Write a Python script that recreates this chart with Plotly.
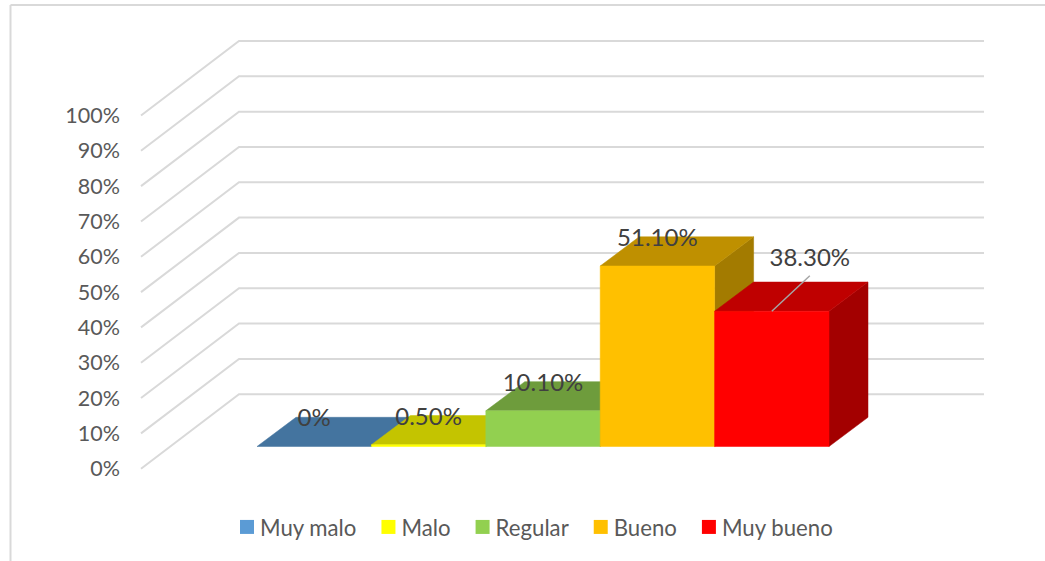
import plotly.graph_objects as go

# ---- data ----
categories = ["Muy malo", "Malo", "Regular", "Bueno", "Muy bueno"]
values = [0, 0.5, 10.1, 51.1, 38.3]
value_labels = ["0%", "0.50%", "10.10%", "51.10%", "38.30%"]
y_ticks = [0, 10, 20, 30, 40, 50, 60, 70, 80, 90, 100]
y_tick_labels = ["0%", "10%", "20%", "30%", "40%", "50%", "60%", "70%", "80%", "90%", "100%"]

# ---- styles ----
front_colors = ["#5B9BD5", "#FFFF00", "#92D050", "#FFC000", "#FF0000"]
top_colors = ["#44749F", "#C4C400", "#6E9C3C", "#BF9000", "#BF0000"]
side_colors = ["#3A6389", "#A3A300", "#5D8432", "#A37B00", "#A30000"]
GRID = "#D9D9D9"
FONT = "Lato, Carlito, Calibri, sans-serif"

# ---- canvas and scale: one bar is one x unit, y is in percent ----
W, H = 1045, 561
PX_X = 114.4          # pixels per bar
PX_Y = 3.532          # pixels per percent
X0_PX = 257           # pixel of the first bar's left edge
Y0_PX = 468.7         # pixel of 0 on the value axis
x_range = [-X0_PX / PX_X, (W - X0_PX) / PX_X]
y_range = [(Y0_PX - H) / PX_Y, Y0_PX / PX_Y]

# ---- oblique projection, in axis units ----
BAR_DX = 39 / PX_X
BAR_DY = 29.2 / PX_Y
WALL_DX = 98 / PX_X
WALL_DY = 74.5 / PX_Y
FLOOR = 22.2 / PX_Y
WALL_LEFT = (141 - X0_PX) / PX_X
WALL_WIDTH = 745 / PX_X

fig = go.Figure()

# receding and back-wall gridlines
for t in y_ticks:
    fig.add_trace(go.Scatter(
        x=[WALL_LEFT, WALL_LEFT + WALL_DX, WALL_LEFT + WALL_DX + WALL_WIDTH],
        y=[t, t + WALL_DY, t + WALL_DY],
        mode="lines", line=dict(color=GRID, width=2),
        showlegend=False, hoverinfo="skip"))


def face(xs, ys, color):
    fig.add_trace(go.Scatter(
        x=xs, y=ys, mode="lines", fill="toself", fillcolor=color,
        line=dict(color=color, width=0.5),
        showlegend=False, hoverinfo="skip"))


# bars, left to right so each one covers the side of the previous one
for i, v in enumerate(values):
    x0, x1 = i, i + 1
    b, t = FLOOR, FLOOR + v
    if v > 0:
        face([x1, x1 + BAR_DX, x1 + BAR_DX, x1, x1],
             [b, b + BAR_DY, t + BAR_DY, t, b], side_colors[i])
    face([x0, x1, x1 + BAR_DX, x0 + BAR_DX, x0],
         [t, t, t + BAR_DY, t + BAR_DY, t], top_colors[i])
    if v > 0:
        face([x0, x1, x1, x0, x0], [b, b, t, t, b], front_colors[i])

# leader line of the moved last label
last = len(values) - 1
label_dx = [0, 0, 0, 0, 38 / PX_X]
label_dy = [0, 0, 0, 0, 25 / PX_Y]
LABEL_NUDGE = -3 / PX_Y
fig.add_trace(go.Scatter(
    x=[last + 0.5, last + 0.5 + label_dx[last]],
    y=[FLOOR + values[last], FLOOR + values[last] + 35.5 / PX_Y],
    mode="lines", line=dict(color="#A6A6A6", width=1.5),
    showlegend=False, hoverinfo="skip"))

# data labels
fig.add_trace(go.Scatter(
    x=[i + 0.5 + label_dx[i] for i in range(len(values))],
    y=[FLOOR + v + BAR_DY + label_dy[i] + LABEL_NUDGE for i, v in enumerate(values)],
    text=value_labels, mode="text", textposition="middle center",
    textfont=dict(family=FONT, size=24, color="#404040"),
    showlegend=False, hoverinfo="skip"))

# legend entries
for name, color in zip(categories, front_colors):
    fig.add_trace(go.Scatter(
        x=[None], y=[None], name=name, mode="markers",
        marker=dict(symbol="square", size=14, color=color)))

fig.update_layout(
    width=W, height=H, autosize=False,
    margin=dict(l=0, r=0, t=0, b=0),
    paper_bgcolor="white", plot_bgcolor="white",
    font=dict(family=FONT, size=22, color="#595959"),
    xaxis=dict(range=x_range, visible=False, fixedrange=True),
    yaxis=dict(
        range=y_range, anchor="free", position=120 / W,
        tickmode="array", tickvals=y_ticks, ticktext=y_tick_labels,
        showgrid=False, zeroline=False, showline=False, ticks="",
        tickfont=dict(family=FONT, size=21.5, color="#595959"),
        fixedrange=True),
    legend=dict(
        orientation="h", x=220 / W, xanchor="left",
        y=1 - 527 / H, yanchor="middle",
        font=dict(family=FONT, size=22.2, color="#595959"),
        bgcolor="rgba(0,0,0,0)"),
    shapes=[
        dict(type="line", xref="paper", yref="paper",
             x0=10.5 / W, x1=1, y0=1 - 5 / H, y1=1 - 5 / H,
             line=dict(color=GRID, width=2)),
        dict(type="line", xref="paper", yref="paper",
             x0=10.5 / W, x1=10.5 / W, y0=0, y1=1 - 5 / H,
             line=dict(color=GRID, width=2)),
    ],
)

fig.write_html(
    "out.html", config=dict(displayModeBar=False),
    post_script=(
        "document.body.style.margin='0';"
        "document.querySelectorAll('.legend .legendpoints')"
        ".forEach(g=>g.setAttribute('transform','translate(7,0)'));"))
